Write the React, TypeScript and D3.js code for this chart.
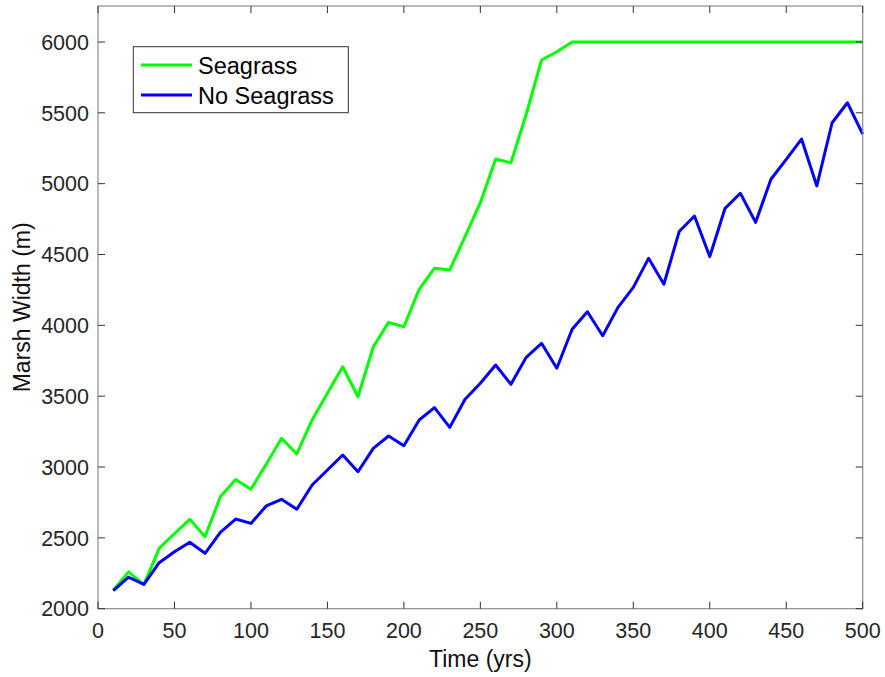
import React from "react";
import { scaleLinear, line } from "d3";

// time in years, one sample every 10 years
const years = [
  10, 20, 30, 40, 50, 60, 70, 80, 90, 100, 110, 120, 130, 140, 150, 160, 170,
  180, 190, 200, 210, 220, 230, 240, 250, 260, 270, 280, 290, 300, 310, 320,
  330, 340, 350, 360, 370, 380, 390, 400, 410, 420, 430, 440, 450, 460, 470,
  480, 490, 500,
];

const seagrass = [
  2130, 2260, 2170, 2426, 2530, 2631, 2508, 2790, 2912, 2843, 3020, 3203, 3092,
  3332, 3520, 3708, 3496, 3849, 4021, 3990, 4254, 4403, 4391, 4626, 4866, 5174,
  5148, 5490, 5873, 5931, 6000, 6000, 6000, 6000, 6000, 6000, 6000, 6000, 6000,
  6000, 6000, 6000, 6000, 6000, 6000, 6000, 6000, 6000, 6000, 6000,
];

const noSeagrass = [
  2127, 2222, 2172, 2325, 2402, 2469, 2391, 2539, 2633, 2602, 2725, 2772, 2702,
  2873, 2979, 3085, 2967, 3132, 3219, 3150, 3332, 3419, 3280, 3478, 3591, 3720,
  3584, 3774, 3873, 3697, 3972, 4096, 3927, 4127, 4268, 4473, 4290, 4662, 4772,
  4485, 4826, 4932, 4727, 5031, 5172, 5315, 4984, 5430, 5571, 5350,
];

const xTicks = [0, 50, 100, 150, 200, 250, 300, 350, 400, 450, 500];
const yTicks = [2000, 2500, 3000, 3500, 4000, 4500, 5000, 5500, 6000];

const seriesNames = ["Seagrass", "No Seagrass"];
const seriesColors = ["#00ff00", "#0000ff"];

const W = 885;
const H = 677;
const left = 98;
const right = 862.7;
const top = 6;
const bottom = 608.7;
const tickLen = 7;
const axisColor = "#8c8c8c";
const font = "Arial, 'Liberation Sans', Helvetica, sans-serif";

export default function App() {
  const x = scaleLinear().domain([0, 500]).range([left, right]);
  const y = scaleLinear().domain([2000, 6254]).range([bottom, top]);

  const path = line<number>()
    .x((_, i) => x(years[i]))
    .y((d) => y(d));

  const series = [seagrass, noSeagrass];

  return (
    <svg
      width={W}
      height={H}
      style={{ position: "absolute", left: 0, top: 0, background: "#fff" }}
      fontFamily={font}
    >
      <rect x={0} y={0} width={W} height={H} fill="#fff" />

      {/* data lines */}
      {series.map((s, i) => (
        <path
          key={seriesNames[i]}
          d={path(s) || ""}
          fill="none"
          stroke={seriesColors[i]}
          strokeWidth={3}
          strokeLinejoin="round"
        />
      ))}

      {/* box */}
      <rect
        x={left}
        y={top}
        width={right - left}
        height={bottom - top}
        fill="none"
        stroke={axisColor}
        strokeWidth={1.2}
      />

      {/* x ticks, bottom and top, pointing in */}
      {xTicks.map((t) => (
        <g key={"x" + t}>
          <line x1={x(t)} x2={x(t)} y1={bottom} y2={bottom - tickLen} stroke="#333" strokeWidth={1} />
          <line x1={x(t)} x2={x(t)} y1={top} y2={top + tickLen} stroke="#333" strokeWidth={1} />
          <text x={x(t)} y={638} textAnchor="middle" fontSize={21.5} fill="#262626">
            {t}
          </text>
        </g>
      ))}

      {/* y ticks, left and right */}
      {yTicks.map((t) => (
        <g key={"y" + t}>
          <line x1={left} x2={left + tickLen} y1={y(t)} y2={y(t)} stroke="#333" strokeWidth={1} />
          <line x1={right} x2={right - tickLen} y1={y(t)} y2={y(t)} stroke="#333" strokeWidth={1} />
          <text x={89} y={y(t) + 7.7} textAnchor="end" fontSize={21.5} fill="#262626">
            {t}
          </text>
        </g>
      ))}

      {/* axis labels */}
      <text x={(left + right) / 2} y={667} textAnchor="middle" fontSize={23} fill="#111">
        Time (yrs)
      </text>
      <text
        transform={`translate(30,${(top + bottom) / 2}) rotate(-90)`}
        textAnchor="middle"
        fontSize={23}
        fill="#111"
      >
        Marsh Width (m)
      </text>

      {/* legend */}
      <g>
        <rect x={133.3} y={46.7} width={215} height={66} fill="#fff" stroke="#333" strokeWidth={1} />
        {seriesNames.map((name, i) => (
          <g key={name}>
            <line x1={141} x2={192} y1={65 + i * 30} y2={65 + i * 30} stroke={seriesColors[i]} strokeWidth={3} />
            <text x={198} y={73.5 + i * 30} fontSize={23.5} fill="#000">
              {name}
            </text>
          </g>
        ))}
      </g>
    </svg>
  );
}
